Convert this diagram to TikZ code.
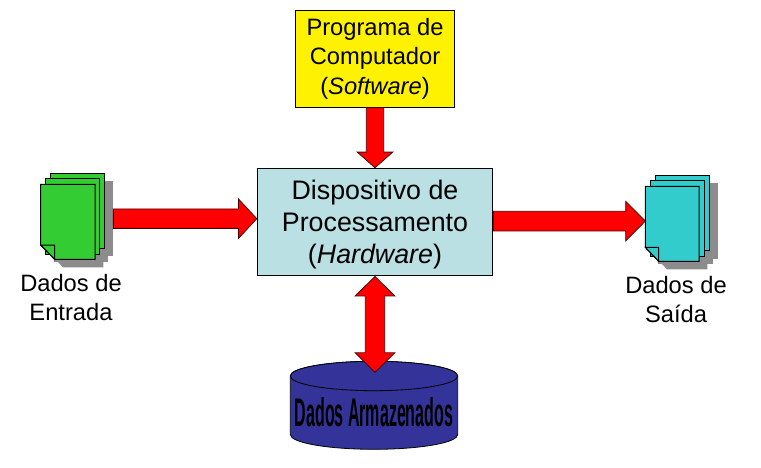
\documentclass[tikz,border=0pt]{standalone}
\usepackage{fontspec}
\setmainfont{Liberation Sans}
\usetikzlibrary{calc}

\definecolor{boxblue}{HTML}{BBE0E3}
\definecolor{diskblue}{HTML}{333399}
\definecolor{pagegreen}{HTML}{33CC33}
\definecolor{pagecyan}{HTML}{33CCCC}
\definecolor{pageshadow}{HTML}{8C8C8C}

\tikzset{
    textlabel/.style={align=center, inner sep=0pt, font=\fontsize{23.7}{29.5}\selectfont},
    bigbox/.style={draw, rectangle, line width=1pt, inner sep=0pt, align=center},
    sheet/.style={draw, rectangle, line width=1pt, inner sep=0pt, minimum width=54.3pt, minimum height=75pt},
    sheetshade/.style={rectangle, fill=pageshadow, inner sep=0pt, minimum width=54.3pt, minimum height=75pt},
    diskline/.style={draw=black, fill=diskblue, line width=.8pt},
    blockarrow/.style n args={3}{draw=black!70!red, fill=red, line width=.8pt, to path={
        let \p1=($(\tikztotarget)!#3!(\tikztostart)$) in
        ($(\tikztostart)!#1!90:(\tikztotarget)$) -- ($(\p1)!#1!90:(\tikztotarget)$)
        -- ($(\p1)!#2!90:(\tikztotarget)$) -- (\tikztotarget)
        -- ($(\p1)!#2!-90:(\tikztotarget)$) -- ($(\p1)!#1!-90:(\tikztotarget)$)
        -- ($(\tikztostart)!#1!-90:(\tikztotarget)$) -- cycle}},
    bothwayarrow/.style n args={3}{draw=black!70!red, fill=red, line width=.8pt, to path={
        let \p1=($(\tikztotarget)!#3!(\tikztostart)$), \p2=($(\tikztostart)!#3!(\tikztotarget)$) in
        (\tikztostart) -- ($(\p2)!#2!90:(\tikztotarget)$) -- ($(\p2)!#1!90:(\tikztotarget)$)
        -- ($(\p1)!#1!90:(\tikztotarget)$) -- ($(\p1)!#2!90:(\tikztotarget)$) -- (\tikztotarget)
        -- ($(\p1)!#2!-90:(\tikztotarget)$) -- ($(\p1)!#1!-90:(\tikztotarget)$)
        -- ($(\p2)!#1!-90:(\tikztotarget)$) -- ($(\p2)!#2!-90:(\tikztotarget)$) -- cycle}}
}

\begin{document}
\begin{tikzpicture}[x=1pt, y=-1pt]
    \useasboundingbox (0,0) rectangle (761,468);

    % Boxes
    \node (software) [bigbox, fill=yellow, minimum width=158.6pt, minimum height=97pt, font=\fontsize{23.7}{29.5}\selectfont] at (375,58.8) {Programa de\\Computador\\(\textit{Software})};
    \node (hardware) [bigbox, fill=boxblue, minimum width=235.4pt, minimum height=107.7pt] at (375,222.1) {};
    \node (hardwaretext) [align=center, inner sep=0pt, font=\fontsize{26.8}{32}\selectfont] at (375,224.3) {Dispositivo de\\Processamento\\(\textit{Hardware})};

    % Disk
    \draw[diskline] (290.3,376) -- (290.3,434.6) arc[start angle=180, end angle=360, x radius=83.7pt, y radius=14.7pt] -- (457.7,376) arc[start angle=0, end angle=180, x radius=83.7pt, y radius=14.7pt] -- cycle;
    \draw[diskline] (374,376) ellipse[x radius=83.7pt, y radius=14.7pt];
    \node (disktext) [xscale=.8, yscale=2, transform shape, inner sep=0pt, font=\fontsize{20}{20}\selectfont\bfseries] at (374,412) {Dados Armazenados};
    \coordinate (disktop) at (375,372.3);

    % Input pages
    \node (inshadea) [sheetshade] at (86,218.7) {};
    \node (inshadeb) [sheetshade] at (80.8,224.5) {};
    \fill[pageshadow] (49,192.3) -- (103.3,192.3) -- (103.3,267.3) -- (63,267.3) -- (49,253) -- cycle;
    \node (inback) [sheet, fill=pagegreen] at (77.7,210.7) {};
    \node (inmiddle) [sheet, fill=pagegreen] at (72.5,216.5) {};
    \draw[line width=1pt, fill=pagegreen] (40.7,184.3) -- (95,184.3) -- (95,259.3) -- (54.7,259.3) -- (40.7,245) -- cycle;
    \draw[line width=1pt, fill=pagegreen] (40.7,245) -- (54.7,245) -- (54.7,259.3) -- cycle;

    % Output pages
    \node (outshadea) [sheetshade] at (690.7,221) {};
    \node (outshadeb) [sheetshade] at (685.5,226.5) {};
    \fill[pageshadow] (653.6,194.3) -- (707.3,194.3) -- (707.3,269.3) -- (667,269.3) -- (653.6,255.3) -- cycle;
    \node (outback) [sheet, fill=pagecyan] at (682.4,213) {};
    \node (outmiddle) [sheet, fill=pagecyan] at (677.2,218.5) {};
    \draw[line width=1pt, fill=pagecyan] (645.3,186.3) -- (699,186.3) -- (699,261.3) -- (658.7,261.3) -- (645.3,247.3) -- cycle;
    \draw[line width=1pt, fill=pagecyan] (645.3,247.3) -- (658.7,247.3) -- (658.7,261.3) -- cycle;

    % Labels
    \node (inlabel) [textlabel] at (71,297.5) {Dados de\\Entrada};
    \node (outlabel) [textlabel] at (676,299.5) {Dados de\\Saída};

    % Arrows
    \coordinate (outstart) at (hardware.east);
    \coordinate (outtip) at (645.3,222.1);
    \draw[blockarrow={8.7pt}{17.7pt}{15.6pt}] (software.south) to (hardware.north);
    \draw[blockarrow={9.7pt}{19.8pt}{18.4pt}] (inshadea.east) to (hardware.west |- inshadea.east);
    \draw[blockarrow={9.8pt}{19.8pt}{19.6pt}] ([yshift=1pt]outstart) to ([yshift=1pt]outtip);
    \draw[bothwayarrow={9.7pt}{19.8pt}{19.5pt}] (hardware.south) to (disktop);
\end{tikzpicture}
\end{document}
